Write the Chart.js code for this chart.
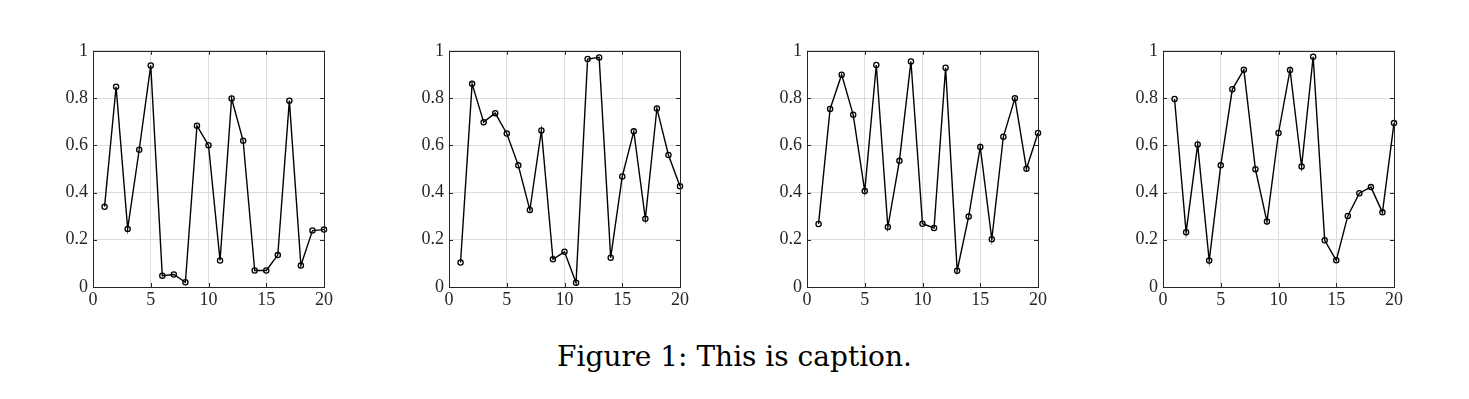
<!DOCTYPE html>
<html>
<head>
<meta charset="utf-8">
<script src="https://cdn.jsdelivr.net/npm/chart.js@4.4.1/dist/chart.umd.min.js"></script>
<style>
  body { margin: 0; background: #fff; width: 1469px; height: 399px; position: relative; overflow: hidden; }
  canvas { position: absolute; }
  #caption { position: absolute; left: 0; width: 1469px; top: 340px; text-align: center;
             font-family: "DejaVu Serif", serif; font-size: 28px; color: #000; }
</style>
</head>
<body>
<canvas id="c1" width="291" height="282"></canvas>
<canvas id="c2" width="291" height="282"></canvas>
<canvas id="c3" width="291" height="282"></canvas>
<canvas id="c4" width="291" height="282"></canvas>
<div id="caption">Figure 1: This is caption.</div>
<script>
// x positions, shared by all four panels
var xValues = [1, 2, 3, 4, 5, 6, 7, 8, 9, 10, 11, 12, 13, 14, 15, 16, 17, 18, 19, 20];

var series1 = [0.340, 0.848, 0.246, 0.581, 0.938, 0.048, 0.053, 0.020, 0.683, 0.600,
               0.112, 0.798, 0.619, 0.070, 0.070, 0.135, 0.789, 0.091, 0.239, 0.243];
var series2 = [0.104, 0.860, 0.698, 0.736, 0.650, 0.515, 0.326, 0.663, 0.117, 0.149,
               0.018, 0.965, 0.972, 0.124, 0.468, 0.659, 0.289, 0.756, 0.559, 0.427];
var series3 = [0.267, 0.754, 0.899, 0.729, 0.406, 0.940, 0.254, 0.534, 0.955, 0.268,
               0.250, 0.928, 0.069, 0.299, 0.593, 0.202, 0.636, 0.799, 0.501, 0.652];
var series4 = [0.796, 0.232, 0.603, 0.112, 0.515, 0.837, 0.920, 0.499, 0.277, 0.652,
               0.919, 0.510, 0.975, 0.198, 0.113, 0.301, 0.397, 0.423, 0.316, 0.694];

var xTicks = [0, 5, 10, 15, 20];
var yTicks = [0, 0.2, 0.4, 0.6, 0.8, 1];

var panels = [
    { id: 'c1', left: 48,   data: series1 },
    { id: 'c2', left: 404,  data: series2 },
    { id: 'c3', left: 762,  data: series3 },
    { id: 'c4', left: 1118, data: series4 }
];

// box round the plot area plus inward ticks on all four sides
var boxPlugin = {
    id: 'box',
    afterDatasetsDraw: function(chart) {
        var ctx = chart.ctx, a = chart.chartArea;
        var xs = chart.scales.x, ys = chart.scales.y;
        ctx.save();
        ctx.strokeStyle = '#262626';
        ctx.lineWidth = 1;
        ctx.beginPath();
        xTicks.forEach(function(v) {
            var px = Math.round(xs.getPixelForValue(v)) + 0.5;
            ctx.moveTo(px, a.bottom); ctx.lineTo(px, a.bottom - 4);
            ctx.moveTo(px, a.top); ctx.lineTo(px, a.top + 4);
        });
        yTicks.forEach(function(v) {
            var py = Math.round(ys.getPixelForValue(v)) + 0.5;
            ctx.moveTo(a.left, py); ctx.lineTo(a.left + 4, py);
            ctx.moveTo(a.right, py); ctx.lineTo(a.right - 4, py);
        });
        ctx.stroke();
        ctx.strokeRect(Math.round(a.left) + 0.5, Math.round(a.top) + 0.5,
                       Math.round(a.right - a.left), Math.round(a.bottom - a.top));
        ctx.restore();
    }
};

var tickFont = { family: '"Liberation Serif", "Times New Roman", serif', size: 18 };
var fmt = function(v) { return String(Math.round(v * 10) / 10); };

panels.forEach(function(p) {
    var canvas = document.getElementById(p.id);
    canvas.style.left = p.left + 'px';
    canvas.style.top = '35px';
    var points = xValues.map(function(x, i) { return { x: x, y: p.data[i] }; });
    new Chart(canvas.getContext('2d'), {
        type: 'scatter',
        data: {
            datasets: [{
                data: points,
                showLine: true,
                borderColor: '#000',
                borderWidth: 1.4,
                pointRadius: 2.6,
                pointBorderWidth: 1.3,
                pointBorderColor: '#000',
                pointBackgroundColor: 'rgba(0,0,0,0)',
                clip: false
            }]
        },
        options: {
            responsive: false,
            animation: false,
            devicePixelRatio: 1,
            layout: { padding: { top: 10, right: 15, left: 0, bottom: 0 } },
            plugins: { legend: { display: false }, tooltip: { enabled: false } },
            scales: {
                x: {
                    type: 'linear', min: 0, max: 20,
                    afterFit: function(s) { s.height = 30; },
                    afterBuildTicks: function(s) { s.ticks = xTicks.map(function(v) { return { value: v }; }); },
                    grid: { color: '#dcdcdc', lineWidth: 1, drawTicks: false },
                    border: { display: false },
                    ticks: { font: tickFont, color: '#262626', padding: 2, maxRotation: 0, callback: fmt }
                },
                y: {
                    type: 'linear', min: 0, max: 1,
                    afterFit: function(s) { s.width = 45; },
                    afterBuildTicks: function(s) { s.ticks = yTicks.map(function(v) { return { value: v }; }); },
                    grid: { color: '#dcdcdc', lineWidth: 1, drawTicks: false },
                    border: { display: false },
                    ticks: { font: tickFont, color: '#262626', padding: 5, callback: fmt }
                }
            }
        },
        plugins: [boxPlugin]
    });
});
</script>
</body>
</html>
